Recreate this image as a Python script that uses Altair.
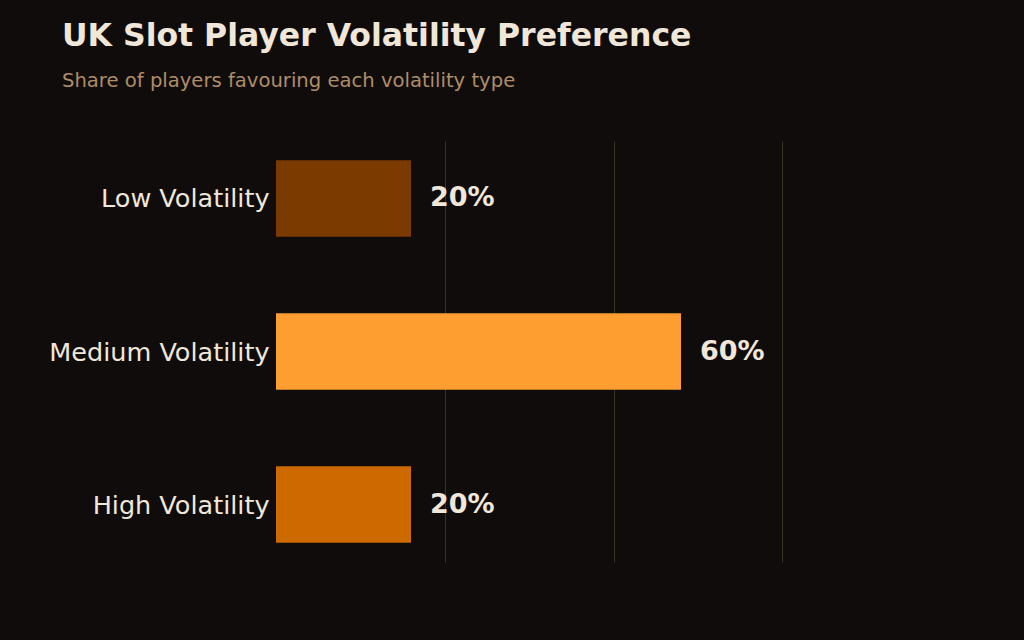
import altair as alt
import pandas as pd

categories = ["Low Volatility", "Medium Volatility", "High Volatility"]
shares = [20, 60, 20]
colors = ["#7a3a00", "#ff9e30", "#cc6a00"]

df = pd.DataFrame({"category": categories, "share": shares, "label": [f"{v}%" for v in shares]})

BG = "#0f0c0b"
TXT = "#f1e7d9"

y_enc = alt.Y("category:N", sort=categories, title=None,
              scale=alt.Scale(paddingInner=0.5, paddingOuter=0.125),
              axis=alt.Axis(domain=False, ticks=False, labelFontSize=25.5, labelColor=TXT,
                            labelFont="DejaVu Sans", labelPadding=7, labelLimit=400, grid=False,
                            labelOffset=1))
x_enc = alt.X("share:Q", title=None, scale=alt.Scale(domain=[0, 100], nice=False),
              axis=alt.Axis(values=[25, 50, 75], labels=False, ticks=False, domain=False,
                            grid=True, gridColor="#3a3328", gridWidth=1))

bars = alt.Chart(df).mark_bar().encode(
    x=x_enc, y=y_enc,
    color=alt.Color("category:N", scale=alt.Scale(domain=categories, range=colors), legend=None),
)
text = alt.Chart(df).mark_text(align="left", baseline="middle", dx=19, dy=0, fontSize=27,
                               fontWeight="bold", font="DejaVu Sans", color=TXT).encode(
    x="share:Q", y=alt.Y("category:N", sort=categories), text="label:N")

chart = (bars + text).properties(
    width=675, height=421,
    background=BG,
    padding={"left": 276, "top": 141, "right": 73, "bottom": 78},
    autosize=alt.AutoSizeParams(type="none"),
    title=alt.TitleParams(
        text="UK Slot Player Volatility Preference",
        subtitle="Share of players favouring each volatility type",
        anchor="start", frame="group", dx=-214, offset=50,
        font="DejaVu Sans", fontSize=31.5, fontWeight="bold", color=TXT,
        subtitleFont="DejaVu Sans", subtitleFontSize=19.6, subtitleColor="#b08d66",
        subtitlePadding=20,
    ),
).configure_view(stroke=None)

chart.save("out.html", embed_options={"renderer": "svg", "actions": False})
